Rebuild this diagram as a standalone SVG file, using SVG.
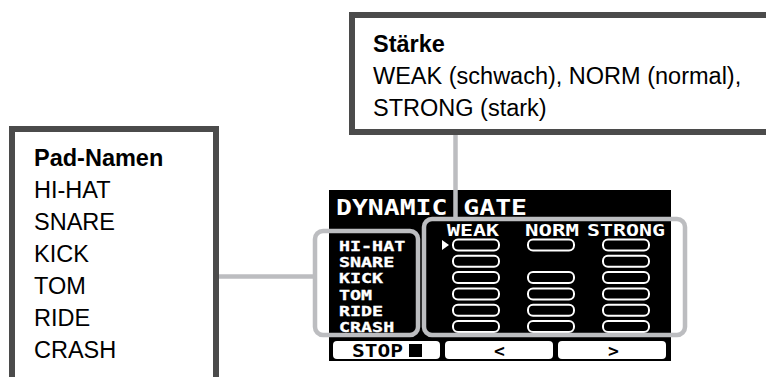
<svg xmlns="http://www.w3.org/2000/svg" width="766" height="377" viewBox="0 0 766 377">
  <defs>
    <style>
      .callout { fill: #ffffff; stroke: #4b4b4b; stroke-width: 6; }
      .ctext { font-family: "Liberation Sans", Arial, sans-serif; font-size: 23.5px; fill: #000000; }
      .ctitle { font-weight: bold; }
      .hl { fill: none; stroke: #bcbdc0; stroke-width: 4.5; }
      .conn { stroke: #bcbdc0; stroke-width: 4.5; fill: none; }
      .lcd { font-family: "DejaVu Sans Mono", "Liberation Mono", monospace; font-weight: bold; fill: #ffffff; }
      .row { font-size: 13.8px; stroke: #ffffff; stroke-width: 0.3; }
      .bar { fill: #000000; stroke: #ffffff; stroke-width: 2; }
      .btn { fill: #ffffff; }
      .btntext { font-family: "DejaVu Sans Mono", "Liberation Mono", monospace; font-weight: bold; fill: #000000; font-size: 18px; }
    </style>
  </defs>

  <rect width="766" height="377" fill="#ffffff"/>

  <!-- LCD screen -->
  <g id="lcd">
    <rect x="329" y="190" width="342" height="171" fill="#000000"/>
    <text class="lcd" x="336" y="215" font-size="20.5" textLength="191" lengthAdjust="spacingAndGlyphs">DYNAMIC GATE</text>
    <text class="lcd" x="447" y="235.5" font-size="15" textLength="52" lengthAdjust="spacingAndGlyphs">WEAK</text>
    <text class="lcd" x="525" y="235.5" font-size="15" textLength="54" lengthAdjust="spacingAndGlyphs">NORM</text>
    <text class="lcd" x="587" y="235.5" font-size="15" textLength="78" lengthAdjust="spacingAndGlyphs">STRONG</text>

    <text class="lcd row" transform="translate(339 0) scale(1.33 1)"><tspan x="0" y="251">HI-HAT</tspan><tspan x="0" y="267.3">SNARE</tspan><tspan x="0" y="283.5">KICK</tspan><tspan x="0" y="299.7">TOM</tspan><tspan x="0" y="316">RIDE</tspan><tspan x="0" y="332">CRASH</tspan></text>

    <polygon points="442,240 449,245 442,250" fill="#ffffff"/>

    <!-- WEAK column -->
    <rect class="bar" x="453" y="239.5" width="46" height="11" rx="5"/>
    <rect class="bar" x="453" y="255.8" width="46" height="11" rx="5"/>
    <rect class="bar" x="453" y="272.1" width="46" height="11" rx="5"/>
    <rect class="bar" x="453" y="288.4" width="46" height="11" rx="5"/>
    <rect class="bar" x="453" y="304.7" width="46" height="11" rx="5"/>
    <rect class="bar" x="453" y="321" width="46" height="11" rx="5"/>
    <!-- NORM column -->
    <rect class="bar" x="528" y="239.5" width="46" height="11" rx="5"/>
    <rect class="bar" x="528" y="272.1" width="46" height="11" rx="5"/>
    <rect class="bar" x="528" y="288.4" width="46" height="11" rx="5"/>
    <rect class="bar" x="528" y="304.7" width="46" height="11" rx="5"/>
    <rect class="bar" x="528" y="321" width="46" height="11" rx="5"/>
    <!-- STRONG column -->
    <rect class="bar" x="603" y="239.5" width="46" height="11" rx="5"/>
    <rect class="bar" x="603" y="255.8" width="46" height="11" rx="5"/>
    <rect class="bar" x="603" y="272.1" width="46" height="11" rx="5"/>
    <rect class="bar" x="603" y="288.4" width="46" height="11" rx="5"/>
    <rect class="bar" x="603" y="304.7" width="46" height="11" rx="5"/>
    <rect class="bar" x="603" y="321" width="46" height="11" rx="5"/>

    <!-- Buttons -->
    <rect class="btn" x="333" y="341" width="107" height="18" rx="4"/>
    <rect class="btn" x="445" y="341" width="108" height="18" rx="4"/>
    <rect class="btn" x="558" y="341" width="108" height="18" rx="4"/>
    <text class="btntext" x="352" y="357" textLength="51" lengthAdjust="spacingAndGlyphs">STOP</text>
    <rect x="409" y="344" width="13" height="13" fill="#000000"/>
    <text class="btntext" x="494" y="356.5">&lt;</text>
    <text class="btntext" x="608" y="356.5">&gt;</text>
  </g>

  <!-- highlight frames on LCD -->
  <g id="highlight-pads">
    <rect class="hl" x="315" y="231" width="103" height="104" rx="8"/>
  </g>
  <g id="highlight-strength">
    <rect class="hl" x="424" y="219" width="261" height="116" rx="8"/>
  </g>

  <!-- connectors -->
  <g id="connectors">
    <line class="conn" x1="219" y1="276.5" x2="313" y2="276.5"/>
    <line class="conn" x1="455.5" y1="135" x2="455.5" y2="217"/>
  </g>

  <!-- Callout: Pad-Namen -->
  <g id="pad-namen">
    <rect class="callout" x="12" y="129" width="204" height="262"/>
    <text class="ctext ctitle" x="34" y="166">Pad-Namen</text>
    <text class="ctext" x="34" y="198">HI-HAT</text>
    <text class="ctext" x="34" y="230">SNARE</text>
    <text class="ctext" x="34" y="262">KICK</text>
    <text class="ctext" x="34" y="294">TOM</text>
    <text class="ctext" x="34" y="326">RIDE</text>
    <text class="ctext" x="34" y="358">CRASH</text>
  </g>

  <!-- Callout: Stärke -->
  <g id="staerke">
    <rect class="callout" x="352" y="15" width="430" height="117"/>
    <text class="ctext ctitle" x="373" y="52">Stärke</text>
    <text class="ctext" x="373" y="84">WEAK (schwach), NORM (normal),</text>
    <text class="ctext" x="373" y="116">STRONG (stark)</text>
  </g>
</svg>
